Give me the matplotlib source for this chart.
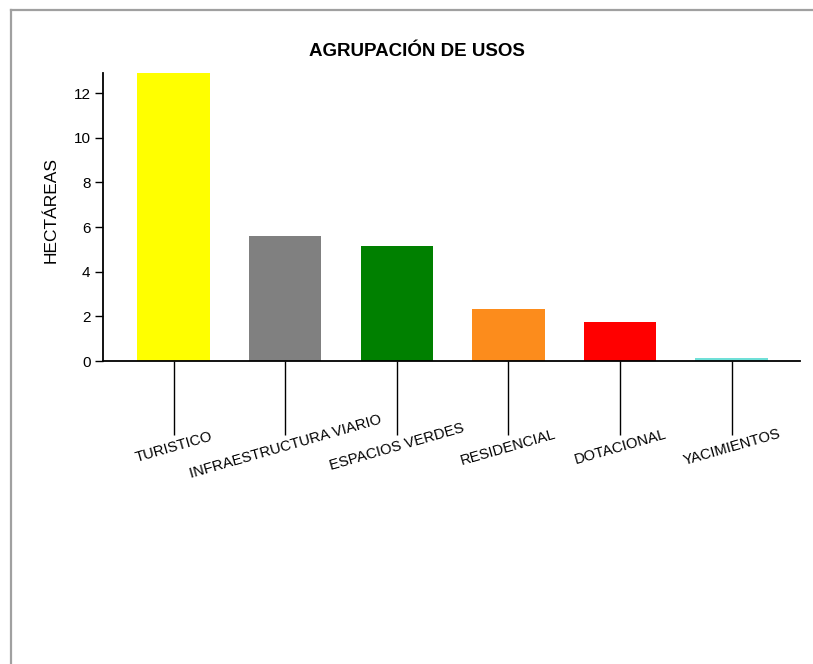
import matplotlib.pyplot as plt
from matplotlib.lines import Line2D

plt.rcParams['font.family'] = ['Liberation Sans', 'DejaVu Sans']

# Datos
usos = ['TURISTICO', 'INFRAESTRUCTURA VIARIO', 'ESPACIOS VERDES',
        'RESIDENCIAL', 'DOTACIONAL', 'YACIMIENTOS']
hectareas = [12.9, 5.6, 5.15, 2.35, 1.75, 0.13]
colores = ['#ffff00', '#808080', '#008000', '#fc8c1c', '#ff0000', '#70e0d8']

fig = plt.figure(figsize=(8.13, 6.64), dpi=100)
ax = fig.add_axes([0.1267, 0.4563, 0.857, 0.4337])

x = range(len(usos))
ax.bar(x, hectareas, width=0.65, color=colores)

ax.set_xlim(-0.632, 5.61)
ax.set_ylim(0, 12.9)
ax.set_yticks([0, 2, 4, 6, 8, 10, 12])

for s in ['top', 'right']:
    ax.spines[s].set_visible(False)
for s in ['left', 'bottom']:
    ax.spines[s].set_linewidth(1.3)

ax.tick_params(axis='y', length=6, width=1, labelsize=11, pad=3)
ax.tick_params(axis='x', length=53, width=1, labelsize=10.6, pad=9)
ax.set_xticks(list(x))
ax.set_xticklabels(usos)
for lbl in ax.get_xticklabels():
    lbl.set_rotation(16)
    lbl.set_rotation_mode('anchor')
    lbl.set_ha('center')
    lbl.set_va('center')

ax.set_ylabel('HECTÁREAS', fontsize=12.5)
ax.yaxis.set_label_coords(-0.063, 0.525)
fig.text(0.513, 1 - 51 / 664, 'AGRUPACIÓN DE USOS', ha='center', va='center',
         fontsize=13.5, fontweight='bold')

# marco gris de la ventana
fig.add_artist(Line2D([11 / 813, 11 / 813], [0, 1 - 10 / 664],
                      transform=fig.transFigure, color='#a0a0a0', lw=1.6))
fig.add_artist(Line2D([11 / 813, 1], [1 - 10 / 664, 1 - 10 / 664],
                      transform=fig.transFigure, color='#a0a0a0', lw=1.6))

fig.savefig('out.png', dpi=100)
